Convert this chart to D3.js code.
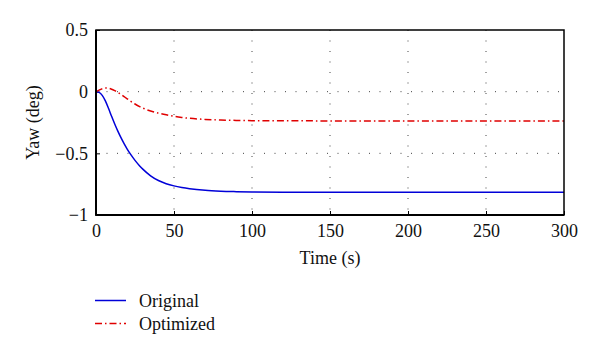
<!DOCTYPE html>
<html><head><meta charset="utf-8">
<script src="https://cdn.jsdelivr.net/npm/d3@7/dist/d3.min.js"></script>
<style>body{margin:0;background:#fff}svg{display:block}text{font-family:"Liberation Serif","DejaVu Serif",serif;fill:#111}</style>
</head><body>
<svg id="c" width="600" height="357"></svg>
<script>
const time = [0,2,4,6,8,10,12,14,16,18,20,22,25,28,30,35,40,45,50,55,60,70,80,90,100,120,150,200,250,300];
const original = [0,-0.006,-0.03,-0.075,-0.135,-0.2,-0.262,-0.32,-0.373,-0.421,-0.465,-0.505,-0.557,-0.602,-0.628,-0.682,-0.72,-0.746,-0.764,-0.777,-0.787,-0.8,-0.807,-0.811,-0.814,-0.816,-0.816,-0.816,-0.816,-0.816];
const optimized = [0,0.012,0.024,0.03,0.028,0.02,0.008,-0.006,-0.022,-0.04,-0.058,-0.076,-0.1,-0.121,-0.133,-0.157,-0.174,-0.188,-0.2,-0.209,-0.216,-0.225,-0.230,-0.233,-0.235,-0.236,-0.237,-0.237,-0.237,-0.237];
const xTicks = [0,50,100,150,200,250,300];
const yTicks = [0.5,0,-0.5,-1];
const seriesNames = ["Original","Optimized"];

const FS = "18px";
const svg = d3.select("#c");
const L=96, R=564, T=30, B=215;
const x = d3.scaleLinear().domain([0,300]).range([L,R]);
const y = d3.scaleLinear().domain([-1,0.5]).range([B,T]);

// grid
const g = svg.append("g");
g.selectAll(".vg").data(xTicks.filter(d=>d>0&&d<300)).join("line")
  .attr("x1",d=>x(d)).attr("x2",d=>x(d)).attr("y1",T).attr("y2",B)
  .attr("stroke","#444").attr("stroke-width",1).attr("stroke-dasharray","1,9.5");
g.selectAll(".hg").data(yTicks.filter(d=>d>-1&&d<0.5)).join("line")
  .attr("x1",L).attr("x2",R).attr("y1",d=>y(d)).attr("y2",d=>y(d))
  .attr("stroke","#444").attr("stroke-width",1).attr("stroke-dasharray","1,9.5");

// axes
const xa = svg.append("g").attr("transform",`translate(0,${B})`)
  .call(d3.axisBottom(x).tickValues(xTicks).tickSize(-4).tickPadding(9).tickFormat(d3.format("d")));
const ya = svg.append("g").attr("transform",`translate(${L},0)`)
  .call(d3.axisLeft(y).tickValues(yTicks).tickSize(-4).tickPadding(8).tickFormat(d=>d===0?"0":(d<0?"\u2212":"")+Math.abs(d)));
[xa,ya].forEach(a=>{a.select(".domain").remove();a.selectAll("line").attr("stroke","#000");
  a.attr("font-size",null).attr("font-family",null);
  a.selectAll("text").style("font-family",'"Liberation Serif",serif').style("font-size",FS).attr("fill","#111");});

// lines
const line = d3.line().x((d,i)=>x(time[i])).y(d=>y(d)).curve(d3.curveMonotoneX);
svg.append("path").datum(original).attr("d",line).attr("fill","none").attr("stroke","#0000d8").attr("stroke-width",1.5);
svg.append("path").datum(optimized).attr("d",line).attr("fill","none").attr("stroke","#e00000").attr("stroke-width",1.5).attr("stroke-dasharray","7,3,1.5,3");

// frame
svg.append("rect").attr("x",L).attr("y",T).attr("width",R-L).attr("height",B-T).attr("fill","none").attr("stroke","#000").attr("stroke-width",1.5);
svg.append("line").attr("x1",L).attr("x2",L).attr("y1",T).attr("y2",B+0.75).attr("stroke","#000").attr("stroke-width",2);
svg.append("line").attr("x1",L).attr("x2",R).attr("y1",B).attr("y2",B).attr("stroke","#000").attr("stroke-width",2);

// labels
svg.append("text").attr("x",(L+R)/2).attr("y",264).attr("text-anchor","middle").style("font-size",FS).text("Time (s)");
svg.append("text").attr("transform",`translate(39,${(T+B)/2}) rotate(-90)`).attr("text-anchor","middle").style("font-size",FS).text("Yaw (deg)");

// legend
const leg = [{n:seriesNames[0],c:"#0000d8",d:null,y:300.5},{n:seriesNames[1],c:"#e00000",d:"7,3,1.5,3",y:323.5}];
leg.forEach(e=>{
  svg.append("line").attr("x1",95).attr("x2",126).attr("y1",e.y).attr("y2",e.y).attr("stroke",e.c).attr("stroke-width",1.5).attr("stroke-dasharray",e.d);
  svg.append("text").attr("x",139).attr("y",e.y+6).style("font-size",FS).text(e.n);
});
</script>
</body></html>
